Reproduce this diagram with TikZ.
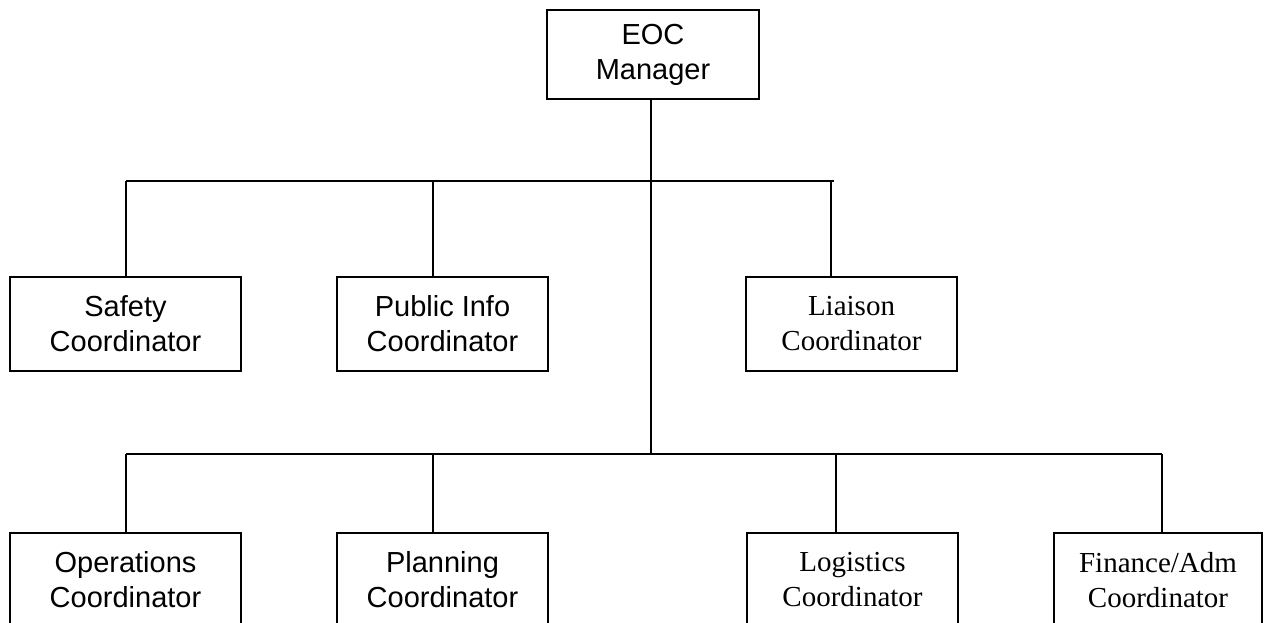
\documentclass[tikz,border=0pt]{standalone}
\usepackage{fontspec}
\setmainfont{Liberation Serif}
\newfontfamily\arialfont{Liberation Sans}
\begin{document}
\begin{tikzpicture}[x=1pt,y=1pt,
  box/.style={draw=black, line width=1.6pt, rectangle, inner sep=0pt, align=center,
    minimum width=211pt, minimum height=94pt, font=\fontsize{29}{35}\selectfont},
  sans/.style={font=\arialfont\fontsize{29}{35}\selectfont},
  link/.style={draw=black, line width=1.6pt}]
\useasboundingbox (0,0) rectangle (1265,-623);
\clip (0,0) rectangle (1265,-623);
% top
\node[box, sans, minimum width=212pt, minimum height=89pt] (eoc) at (653,-54.5) {EOC\\Manager};
% middle row
\node[box, sans, minimum width=231pt] (safety) at (125.5,-324) {Safety\\Coordinator};
\node[box, sans] (pub) at (442.5,-324) {Public Info\\Coordinator};
\node[box] (liaison) at (851.5,-324) {Liaison\\Coordinator};
% bottom row
\node[box, sans, minimum width=231pt] (ops) at (125.5,-580) {Operations\\Coordinator};
\node[box, sans] (plan) at (442.5,-580) {Planning\\Coordinator};
\node[box] (logi) at (852.5,-580) {Logistics\\Coordinator};
\node[box, minimum width=208pt] (fin) at (1158,-580) {Finance/Adm\\Coordinator};
% bus coordinates
\coordinate (u1) at (126,-181);
\coordinate (u2) at (433,-181);
\coordinate (uc) at (651,-181);
\coordinate (u3) at (831,-181);
\coordinate (uend) at (834,-181);
\coordinate (l1) at (126,-454);
\coordinate (l2) at (433,-454);
\coordinate (lc) at (651,-454);
\coordinate (l3) at (836,-454);
\coordinate (l4) at (1162,-454);
% connectors
\draw[link] (eoc.south -| uc) -- (lc);
\draw[link] (u1) -- (uend);
\draw[link] (u1) -- (u1 |- safety.north);
\draw[link] (u2) -- (u2 |- pub.north);
\draw[link] (u3) -- (u3 |- liaison.north);
\draw[link] (l1) -- (l4);
\draw[link] (l1) -- (l1 |- ops.north);
\draw[link] (l2) -- (l2 |- plan.north);
\draw[link] (l3) -- (l3 |- logi.north);
\draw[link] (l4) -- (l4 |- fin.north);
\end{tikzpicture}
\end{document}
